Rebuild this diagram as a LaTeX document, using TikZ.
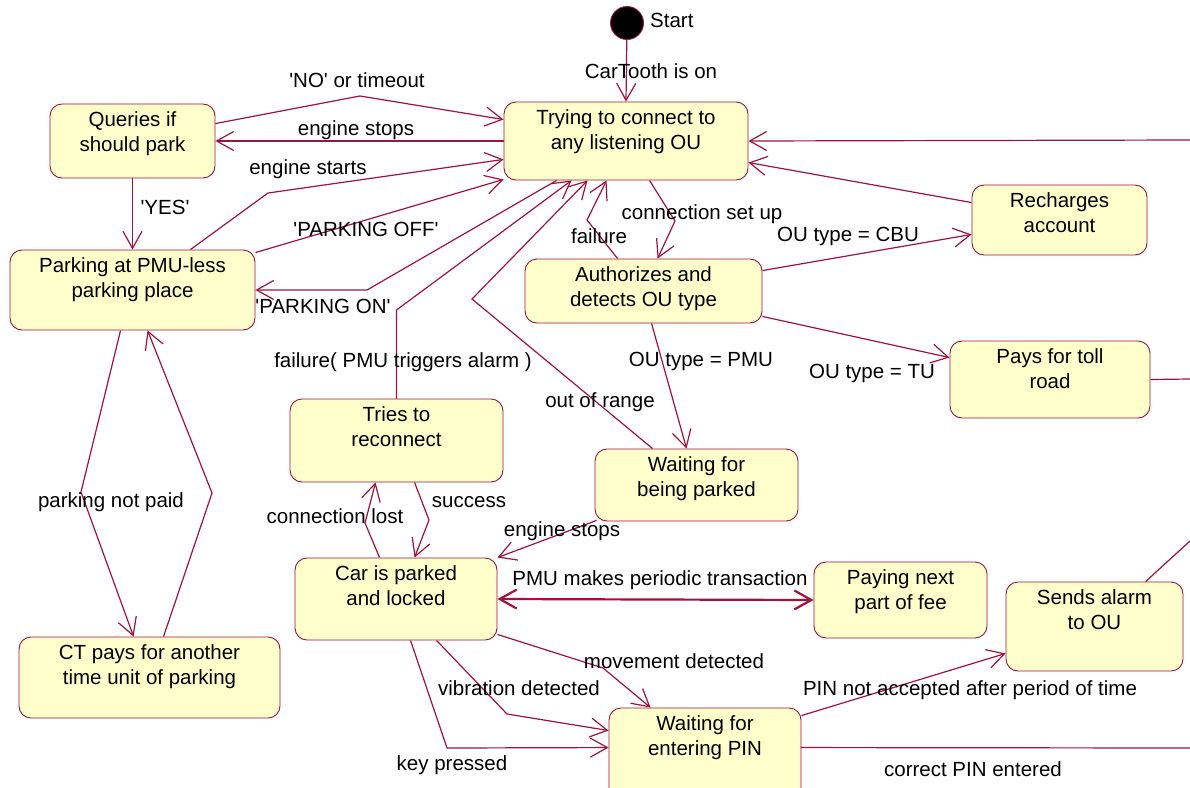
\documentclass[tikz,border=0pt]{standalone}
\usepackage{fontspec}
\setmainfont{Liberation Sans}
\usetikzlibrary{arrows.meta,calc}
\definecolor{umlline}{RGB}{160,18,62}
\definecolor{umlfill}{RGB}{255,255,204}
\newcommand\q{\textquotesingle}
\begin{document}
\begin{tikzpicture}[x=1pt,y=-1pt,
  font=\fontsize{20.5}{25.5}\selectfont,
  >={Straight Barb[length=17pt,width=19pt]},
  stbox/.style={draw=umlline, fill=umlfill, rounded corners=12pt, line width=0.9pt, inner sep=0pt},
  sttext/.style={anchor=north, align=center, inner sep=0pt, yshift=-7.5pt},
  trans/.style={draw=umlline, line width=1.2pt, ->},
  plain/.style={draw=umlline, line width=1.2pt},
  lbl/.style={inner sep=0pt}
]
\useasboundingbox (0,0) rectangle (1190,787);

% state: name, centre x, centre y, width, height, text
\newcommand\umlstate[6]{%
  \node[stbox, minimum width=#4pt, minimum height=#5pt,
        label={[sttext]north:{#6}}] (#1) at (#2,#3) {};}

% initial state
\node[circle, draw=umlline, fill=black, line width=0.9pt, minimum size=33pt, inner sep=0pt] (s) at (627,23) {};
\node[lbl, anchor=west] (startlbl) at (650,20) {Start};

\umlstate{T}{626}{141}{244}{78}{Trying to connect to\\any listening OU}
\umlstate{Q}{132.5}{141}{165}{74}{Queries if\\should park}
\umlstate{P}{132.5}{290}{245}{80}{Parking at PMU-less\\parking place}
\umlstate{R}{1059.5}{220}{175}{70}{Recharges\\account}
\umlstate{A}{643.5}{291}{237}{64}{Authorizes and\\detects OU type}
\umlstate{Toll}{1050}{379.5}{200}{77}{Pays for toll\\road}
\umlstate{TR}{396.5}{440.5}{213}{83}{Tries to\\reconnect}
\umlstate{WP}{696.5}{485}{203}{72}{Waiting for\\being parked}
\umlstate{C}{396}{599}{202}{82}{Car is parked\\and locked}
\umlstate{PN}{900.5}{600}{173}{76}{Paying next\\part of fee}
\umlstate{SA}{1094.5}{626.5}{177}{89}{Sends alarm\\to OU}
\umlstate{CT}{149.5}{677.5}{261}{81}{CT pays for another\\time unit of parking}
\umlstate{WPIN}{705}{754}{192}{92}{Waiting for\\entering PIN}

% off-page ends
\coordinate (eT) at (1190,140);
\coordinate (eToll) at (1190,379);
\coordinate (eSA) at (1190,541);
\coordinate (ePIN) at (1190,748);

% transitions
\draw[trans] (s) -- (T.north);
\draw[trans] ($(Q.north east)+(0,20)$) -- (360,96) -- ($(T.north west)+(0,18)$);
\draw[trans] (T.west) -- (Q.east);
\draw[trans] ($(P.north east)+(-65,0)$) -- (268,193) -- ($(T.south west)+(0,-21)$);
\draw[trans] ($(P.north east)+(0,3)$) -- ($(T.south west)+(0,-1)$);
\draw[trans] ($(T.south west)+(53,0)$) -- (367,290) -- (P.east);
\draw[trans] (TR.north) -- (396.5,310) -- ($(T.south west)+(68,0)$);
\draw[trans] ($(WP.north west)+(58,0)$) -- (472,299) -- ($(T.south west)+(84,0)$);
\draw[trans] ($(A.north west)+(93,0)$) -- (587,220) -- ($(T.south west)+(103,0)$);
\draw[trans] ($(T.south west)+(146,0)$) -- (675,221) -- ($(A.north west)+(133,0)$);
\draw[trans] ($(A.north east)+(0,12)$) -- ($(R.south west)+(0,-21)$);
\draw[trans] ($(R.north west)+(0,18)$) -- ($(T.north east)+(0,61)$);
\draw[trans] (eT) -- (T.east);
\draw[trans] ($(A.south east)+(0,-7)$) -- ($(Toll.north west)+(0,17)$);
\draw[plain] (Toll.east) -- (eToll);
\draw[trans] ($(A.south west)+(127,0)$) -- ($(WP.north west)+(92,0)$);
\draw[trans] ($(WP.south west)+(2,-1)$) -- (C.north east);
\draw[trans] ($(C.north west)+(85,0)$) -- (365,523) -- ($(TR.south west)+(86,0)$);
\draw[trans] ($(TR.south west)+(125,0)$) -- (429,520) -- ($(C.north west)+(120,0)$);
\draw[draw=umlline, line width=2.2pt, <->] (C.east) -- (PN.west);
\draw[trans] ($(C.south east)+(0,-6)$) -- (603,668) -- ($(WPIN.north west)+(42,0)$);
\draw[trans] ($(C.south west)+(142,0)$) -- (507,714) -- ($(WPIN.north west)+(0,23)$);
\draw[trans] ($(C.south west)+(116,0)$) -- (447,748) -- ($(WPIN.north west)+(0,40)$);
\draw[trans] ($(WPIN.north east)+(0,8)$) -- ($(SA.south west)+(0,-18)$);
\draw[plain] ($(WPIN.north west)+(192,40)$) -- (ePIN);
\draw[plain] ($(SA.north west)+(140,0)$) -- (eSA);
\draw[trans] (Q.south) -- (P.north);
\draw[trans] ($(P.south west)+(111,0)$) -- (81,492) -- ($(CT.north west)+(115,0)$);
\draw[trans] ($(CT.north west)+(145,0)$) -- (212,493) -- ($(P.south west)+(138,0)$);

% transition labels
\node[lbl] (l1) at (651,71) {CarTooth is on};
\node[lbl] (l2) at (357,80) {\q NO\q{} or timeout};
\node[lbl] (l3) at (356,130) {engine stops};
\node[lbl] (l4) at (308,169) {engine starts};
\node[lbl] (l5) at (165,207) {\q YES\q};
\node[lbl] (l6) at (366,229) {\q PARKING OFF\q};
\node[lbl] (l7) at (323,306) {\q PARKING ON\q};
\node[lbl] (l8) at (403,362) {failure( PMU triggers alarm )};
\node[lbl] (l9) at (600,402) {out of range};
\node[lbl] (l10) at (599,236) {failure};
\node[lbl] (l11) at (702,214) {connection set up};
\node[lbl] (l12) at (848,236) {OU type = CBU};
\node[lbl] (l13) at (701,361) {OU type = PMU};
\node[lbl] (l14) at (872,373) {OU type = TU};
\node[lbl] (l15) at (335,516) {connection lost};
\node[lbl] (l16) at (469,502) {success};
\node[lbl] (l17) at (562,531) {engine stops};
\node[lbl] (l18) at (660,580) {PMU makes periodic transaction};
\node[lbl] (l19) at (674,661) {movement detected};
\node[lbl] (l20) at (519,688) {vibration detected};
\node[lbl] (l21) at (452,765) {key pressed};
\node[lbl] (l22) at (111,502) {parking not paid};
\node[lbl] (l23) at (970,690) {PIN not accepted after period of time};
\node[lbl] (l24) at (973,769) {correct PIN entered};
\end{tikzpicture}
\end{document}
